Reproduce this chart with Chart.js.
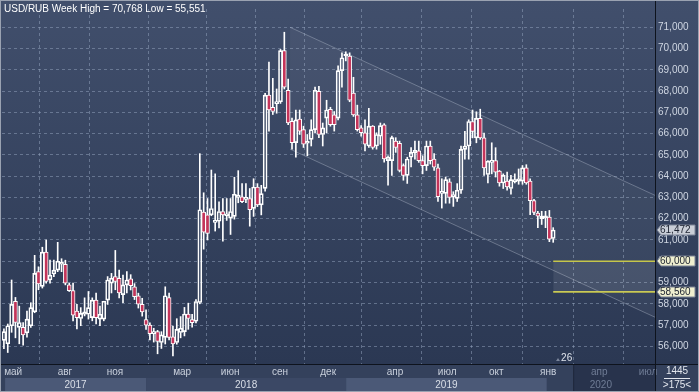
<!DOCTYPE html>
<html><head><meta charset="utf-8">
<script src="https://cdn.jsdelivr.net/npm/chart.js@4.4.0/dist/chart.umd.min.js"></script>
<style>html,body{margin:0;padding:0;background:#36435f;overflow:hidden}canvas{display:block}</style>
</head><body><canvas id="c" width="699" height="392"></canvas>
<script>
// ---- data: weekly USD/RUB candles (one per week, index 0 = first visible week) ----
const opens = [56.28,56.12,56.97,58.12,56.89,56.89,56.63,56.97,57.62,59.51,58.82,60.43,59.12,59.40,59.58,59.86,59.86,58.89,58.62,57.66,
57.31,57.51,57.51,57.35,58.17,57.28,57.28,58.17,58.97,59.28,59.20,58.43,58.89,59.18,58.80,58.38,57.98,57.26,57.00,56.60,
56.69,56.18,56.42,58.29,56.45,56.18,56.65,56.69,57.52,57.26,57.18,58.06,62.31,62.18,62.18,61.83,61.88,62.34,62.14,62.03,
62.11,63.00,63.03,62.91,62.95,62.49,63.49,62.65,63.43,67.81,67.24,67.41,67.50,69.90,68.04,66.58,65.58,66.68,66.19,65.55,
65.73,66.19,67.99,65.96,66.73,67.14,66.88,66.73,68.96,69.65,69.65,67.91,66.88,66.27,66.04,65.42,66.35,65.42,65.88,66.42,
64.73,64.73,65.65,65.55,64.50,64.04,64.89,65.11,65.19,64.73,64.50,65.42,64.80,64.39,63.19,63.19,63.73,63.04,62.96,63.34,
65.26,65.42,66.57,65.80,66.72,65.80,64.08,64.65,64.73,64.24,63.68,63.77,63.42,63.73,63.77,63.77,64.39,63.77,62.85,62.27,
62.00,62.04,62.08,61.07];
const highs = [56.82,57.05,59.12,58.30,57.89,57.12,57.66,58.05,60.28,59.74,60.66,61.00,60.05,60.05,60.89,60.12,60.05,58.97,58.97,57.97,
57.82,58.28,58.58,58.28,58.51,57.89,58.12,59.28,59.43,60.51,59.58,59.35,59.51,59.37,58.95,58.50,58.26,57.72,57.10,56.85,
56.75,56.69,58.80,58.50,56.95,57.30,57.40,57.83,58.03,57.50,58.20,65.06,63.22,62.95,64.29,64.11,62.80,62.95,62.95,62.95,
63.95,64.26,63.65,63.65,63.42,63.88,63.65,63.57,67.90,69.37,68.60,68.10,69.96,70.768,68.57,66.73,67.11,67.11,66.35,65.96,
66.65,68.19,68.22,66.50,67.57,67.24,67.04,69.19,69.80,69.85,69.80,68.65,67.34,66.38,66.65,67.19,66.38,66.04,66.50,66.47,
64.96,65.88,65.81,65.65,64.58,64.89,65.35,65.65,65.65,64.96,65.65,65.65,65.06,64.57,63.88,63.96,63.88,63.27,63.65,65.42,
66.11,66.65,67.11,67.03,67.15,66.03,64.73,65.57,65.34,64.27,64.11,64.19,64.04,64.11,64.34,64.50,64.54,63.88,62.91,62.35,
62.35,62.35,62.39,61.58];
const lows = [55.89,55.71,56.66,56.40,56.12,56.05,56.43,56.89,57.58,58.66,58.74,58.97,58.97,59.28,59.51,59.51,58.89,58.58,57.20,56.82,
56.97,57.43,57.28,57.20,57.05,56.97,57.20,57.97,58.51,58.66,58.28,58.05,58.51,58.65,58.20,57.80,57.42,56.80,56.30,56.20,
55.65,55.90,56.11,56.30,55.551,56.10,56.40,56.49,56.80,56.90,57.10,58.00,60.57,61.00,62.14,61.42,61.57,60.95,61.92,61.26,
61.98,62.75,62.75,62.75,61.65,62.11,62.57,62.18,63.30,66.12,66.90,66.96,67.42,68.10,66.42,65.27,64.89,65.96,65.35,64.96,
65.42,66.04,65.81,65.42,66.04,66.35,66.12,66.65,68.19,69.42,67.50,66.81,66.12,65.88,65.19,65.35,65.27,65.27,65.50,64.66,
63.58,64.04,65.12,64.20,63.81,63.66,64.43,64.80,64.65,64.11,64.27,64.57,64.27,62.81,62.50,62.73,62.73,62.58,62.81,63.19,
64.80,64.80,65.80,65.57,65.73,64.04,63.68,64.11,63.96,63.53,63.42,63.34,63.16,63.68,63.62,63.62,63.62,62.19,62.19,61.58,
61.73,61.58,60.92,60.89];
const closes = [56.69,56.97,57.97,57.12,57.12,56.54,57.28,57.82,59.43,58.94,60.43,59.05,59.35,59.58,60.00,59.92,58.97,58.62,57.46,57.35,
57.55,57.62,57.82,58.17,57.35,57.51,58.12,59.12,59.20,59.05,58.51,58.89,59.12,58.85,58.34,57.98,57.62,57.00,56.60,56.69,
56.23,56.54,58.38,56.42,56.11,56.80,56.85,57.52,57.31,57.11,58.11,62.42,61.37,61.31,62.48,61.92,62.34,62.18,62.23,62.34,
63.15,63.11,62.80,63.00,62.42,63.49,62.65,63.18,67.81,67.12,67.04,67.50,69.90,68.19,66.50,65.58,66.65,66.12,65.50,65.61,
66.19,68.04,65.96,66.27,67.11,66.42,66.42,68.96,69.57,69.69,67.57,66.88,66.19,66.04,65.50,66.35,65.35,65.96,66.38,64.81,
64.89,65.81,65.35,64.27,64.04,64.81,65.12,65.22,64.73,64.50,65.42,64.73,64.42,63.04,63.27,63.84,63.00,63.14,63.34,65.26,
65.42,66.57,66.11,66.72,65.80,64.39,64.70,64.73,64.19,63.68,64.04,63.50,63.84,63.84,63.88,64.39,63.68,62.85,62.30,62.12,
62.12,62.08,61.04,61.472];

const futureWeeks = 26;                       // empty weeks shown to the right
const monthTickPos = [2.4,15.9,28.9,46.4,58.9,71.9,84.4,101.8,115.4,128.2,141.7,155.0,167.7];
const monthTickLabels = ['май','авг','ноя','мар','июн','сен','дек','апр','июл','окт','янв','апр','июл'];
const yearLabels = ['2017','2018','2019','2020'];
const yearStart = [0.3,37.0,89.1,141.3];
const yearEnd = [37.0,89.1,141.3,169.5];
const futureShadeStart = 148.2;
const yTickValues = [56,57,58,59,60,61,62,63,64,65,66,67,68,69,70,71];
const channelX = [74.5,169.5];
const channelUpper = [71.0,63.1];
const channelLower = [65.27,57.37];
const levelValues = [60.0,58.56];
const titleText = 'USD/RUB Week High = 70,768 Low = 55,551';
const cornerTop = '1445', cornerBottom = '>175<';

// ---- build datasets ----
const n = closes.length;
const totalWeeks = n + futureWeeks;
const idx = closes.map((_, i) => i);
const bodyData = idx.map(i => ({x: i, y: [Math.min(opens[i], closes[i]), Math.max(opens[i], closes[i])]}));
const wickHi = idx.map(i => ({x: i, y: [Math.max(opens[i], closes[i]), highs[i]]}));
const wickLo = idx.map(i => ({x: i, y: [lows[i], Math.min(opens[i], closes[i])]}));
const bodyFill = idx.map(i => closes[i] >= opens[i] ? 'rgba(0,0,0,0)' : '#c4345a');
const fmt = v => v.toFixed(3).replace('.', ',');
const FONT = '"Liberation Sans", Arial, sans-serif';
Chart.defaults.font.family = FONT;
Chart.defaults.font.size = 10;

const decor = {
  id: 'decor',
  beforeDraw(chart) {
    const {ctx, chartArea: a, width: W, height: H} = chart;
    const xs = chart.scales.x;
    ctx.save();
    const g = ctx.createLinearGradient(0, 0, 0, a.bottom);
    g.addColorStop(0, '#414f6c');
    g.addColorStop(1, '#2b3853');
    ctx.fillStyle = g;
    ctx.fillRect(0, 0, W, a.bottom);
    ctx.fillStyle = '#34415c';
    ctx.fillRect(0, a.bottom, W, H - a.bottom);
    const bands = ['#4b5977', '#3b4865', '#4b5977', null];
    for (let k = 0; k < yearLabels.length; k++) {
      if (!bands[k]) continue;
      const x1 = Math.max(a.left + 3, xs.getPixelForValue(yearStart[k]));
      const x2 = Math.min(a.right, xs.getPixelForValue(yearEnd[k]));
      ctx.fillStyle = bands[k];
      ctx.fillRect(x1, a.bottom + 14, x2 - x1, 13);
    }
    // future region of the time axis
    const fx = xs.getPixelForValue(futureShadeStart);
    ctx.fillStyle = '#28334c';
    ctx.fillRect(fx, a.bottom + 1, a.right - fx, H - a.bottom - 2);
    ctx.fillStyle = '#1f283b';
    ctx.fillRect(fx, a.bottom + 1, 1, H - a.bottom - 2);
    ctx.restore();
  },
  afterDraw(chart) {
    const {ctx, chartArea: a, width: W, height: H} = chart;
    const xs = chart.scales.x, ys = chart.scales.y;
    ctx.save();
    // axis lines
    ctx.fillStyle = '#0e131d';
    ctx.fillRect(a.right, 0, 1, H);
    ctx.fillRect(0, a.bottom, W, 1);
    // year labels
    ctx.font = '10px ' + FONT;
    ctx.textAlign = 'center';
    ctx.textBaseline = 'middle';
    for (let k = 0; k < yearLabels.length; k++) {
      const x1 = Math.max(a.left + 3, xs.getPixelForValue(yearStart[k]));
      const x2 = Math.min(a.right, xs.getPixelForValue(yearEnd[k]));
      ctx.fillStyle = k === 3 ? '#6f7c95' : '#d9dee7';
      ctx.fillText(yearLabels[k], (x1 + x2) / 2, a.bottom + 21);
    }
    // future-weeks marker
    ctx.fillStyle = '#dfe4ec';
    ctx.fillText(String(futureWeeks), xs.getPixelForValue(n + 2.5), a.bottom - 6);
    ctx.fillStyle = '#7b869b';
    const mx = Math.round(xs.getPixelForValue(n + 0.2));
    ctx.beginPath();
    ctx.moveTo(mx - 2, a.bottom - 3); ctx.lineTo(mx + 2, a.bottom - 3); ctx.lineTo(mx, a.bottom - 6);
    ctx.closePath(); ctx.fill();
    // value tags on the price axis
    const tags = [
      {v: closes[n - 1], bg: '#c9ced7'},
      {v: levelValues[0], bg: '#efefcf'},
      {v: levelValues[1], bg: '#efefcf'}
    ];
    ctx.textAlign = 'left';
    for (const t of tags) {
      const y = Math.round(ys.getPixelForValue(t.v));
      const x0 = a.right + 2;
      ctx.beginPath();
      ctx.moveTo(x0, y);
      ctx.lineTo(x0 + 4, y - 5);
      ctx.lineTo(x0 + 38, y - 5);
      ctx.lineTo(x0 + 38, y + 5);
      ctx.lineTo(x0 + 4, y + 5);
      ctx.closePath();
      ctx.fillStyle = t.bg;
      ctx.fill();
      ctx.strokeStyle = '#7d8597';
      ctx.lineWidth = 1;
      ctx.stroke();
      ctx.fillStyle = '#1c2230';
      ctx.fillText(fmt(t.v), x0 + 3, y + 0.5);
    }
    // corner box
    ctx.textAlign = 'center';
    ctx.fillStyle = '#e3e7ee';
    const cx = (a.right + W) / 2;
    ctx.fillText(cornerTop, cx, a.bottom + 7);
    ctx.fillRect(cx - 13, a.bottom + 14, 26, 1);
    ctx.fillText(cornerBottom, cx, a.bottom + 21);
    // title
    ctx.textAlign = 'left';
    ctx.fillStyle = '#ffffff';
    ctx.fillText(titleText, 4, 9);
    // frame
    ctx.strokeStyle = '#9aa2b1';
    ctx.strokeRect(0.5, 0.5, W - 1, H - 1);
    ctx.restore();
  }
};

new Chart(document.getElementById('c'), {
  type: 'bar',
  data: {
    datasets: [
      {type: 'line', data: channelX.map((x, k) => ({x, y: channelUpper[k]})), borderColor: 'rgba(200,208,224,0.35)', borderWidth: 1,
       pointRadius: 0, fill: '+1', backgroundColor: 'rgba(255,255,255,0.045)', order: 10},
      {type: 'line', data: channelX.map((x, k) => ({x, y: channelLower[k]})), borderColor: 'rgba(200,208,224,0.35)', borderWidth: 1,
       pointRadius: 0, fill: false, order: 10},
      {type: 'line', data: [{x: n - 1, y: levelValues[0]}, {x: totalWeeks - 0.5, y: levelValues[0]}], borderColor: '#c6c64a', borderWidth: 1.6,
       pointRadius: 0, fill: '+1', backgroundColor: 'rgba(255,255,255,0.08)', order: 9},
      {type: 'line', data: [{x: n - 1, y: levelValues[1]}, {x: totalWeeks - 0.5, y: levelValues[1]}], borderColor: '#c6c64a', borderWidth: 1.6,
       pointRadius: 0, fill: false, order: 9},
      {data: wickHi, backgroundColor: '#ffffff', borderWidth: 0, barThickness: 1, grouped: false, order: 3},
      {data: wickLo, backgroundColor: '#ffffff', borderWidth: 0, barThickness: 1, grouped: false, order: 3},
      {data: bodyData, backgroundColor: bodyFill, borderColor: '#ffffff', borderWidth: 1, borderSkipped: false,
       barThickness: 4, minBarLength: 2, grouped: false, order: 1}
    ]
  },
  options: {
    responsive: false,
    animation: false,
    devicePixelRatio: 1,
    layout: {padding: {left: 2, top: 2, right: 0, bottom: 0}},
    plugins: {legend: {display: false}, tooltip: {enabled: false}},
    scales: {
      x: {
        type: 'linear', position: 'bottom', min: -0.5, max: totalWeeks - 0.5, offset: false,
        afterBuildTicks: s => { s.ticks = monthTickPos.map(v => ({value: v})); },
        afterFit: s => { s.height = 28; },
        ticks: {autoSkip: false, maxRotation: 0, padding: 2,
          callback: (v, i) => monthTickLabels[i],
          color: c => c.index >= 11 ? '#6f7c95' : '#c9d0dc'},
        grid: {color: 'rgba(150,165,192,0.5)', lineWidth: 1, drawTicks: false},
        border: {display: false, dash: [3, 3]}
      },
      y: {
        type: 'linear', position: 'right', min: 55.17, max: 71.86,
        afterBuildTicks: s => { s.ticks = yTickValues.map(v => ({value: v})); },
        afterFit: s => { s.width = 44; },
        ticks: {padding: 3, color: '#cfd6e2', callback: v => fmt(v)},
        grid: {color: 'rgba(150,165,192,0.5)', lineWidth: 1, drawTicks: false},
        border: {display: false, dash: [3, 3]}
      }
    }
  },
  plugins: [decor]
});
</script>
</body></html>
